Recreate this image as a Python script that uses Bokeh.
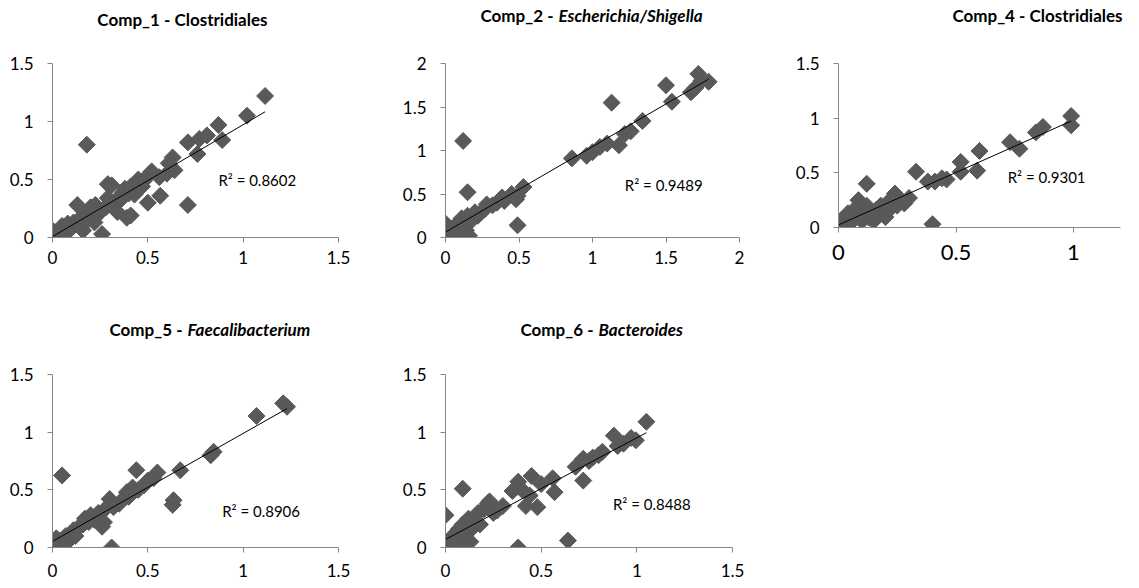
import numpy as np
from bokeh.plotting import figure
from bokeh.models import Range1d, FixedTicker, Label
from bokeh.layouts import row, column
from bokeh.embed import file_html
from bokeh.resources import INLINE

FONT = "Lato"
MARKER = "#595959"
AXIS = "#868686"

# ---- data ----
c1_x = [0.0, 0.01, 0.0, 0.02, 0.03, 0.04, 0.05, 0.06, 0.07, 0.08, 0.1, 0.11, 0.12, 0.13, 0.14, 0.15, 0.16, 0.16, 0.18, 0.18, 0.2, 0.21, 0.22, 0.225, 0.24, 0.25, 0.26, 0.27, 0.28, 0.29, 0.29, 0.31, 0.32, 0.33, 0.34, 0.35, 0.36, 0.37, 0.38, 0.39, 0.4, 0.41, 0.41, 0.43, 0.44, 0.45, 0.46, 0.47, 0.48, 0.5, 0.51, 0.52, 0.56, 0.565, 0.6, 0.61, 0.63, 0.64, 0.71, 0.71, 0.76, 0.77, 0.81, 0.87, 0.89, 1.02, 1.115]
c1_y = [0.0, 0.02, 0.06, 0.0, 0.05, 0.02, 0.1, 0.06, 0.04, 0.12, 0.08, 0.13, 0.12, 0.28, 0.12, 0.09, 0.19, 0.06, 0.8, 0.15, 0.26, 0.18, 0.13, 0.28, 0.2, 0.22, 0.03, 0.25, 0.26, 0.34, 0.46, 0.45, 0.3, 0.3, 0.22, 0.35, 0.33, 0.39, 0.42, 0.17, 0.38, 0.19, 0.44, 0.37, 0.41, 0.5, 0.45, 0.44, 0.49, 0.3, 0.55, 0.57, 0.52, 0.36, 0.55, 0.64, 0.69, 0.58, 0.28, 0.82, 0.72, 0.85, 0.88, 0.97, 0.84, 1.05, 1.22]

c2_x = [0.0, 0.0, 0.0, 0.02, 0.03, 0.04, 0.05, 0.06, 0.07, 0.08, 0.09, 0.1, 0.11, 0.12, 0.13, 0.14, 0.15, 0.15, 0.16, 0.18, 0.2, 0.22, 0.25, 0.27, 0.28, 0.32, 0.35, 0.385, 0.4, 0.45, 0.48, 0.49, 0.49, 0.53, 0.86, 0.96, 1.0, 1.05, 1.1, 1.13, 1.18, 1.22, 1.26, 1.34, 1.5, 1.54, 1.67, 1.7, 1.72, 1.74, 1.79]
c2_y = [0.0, 0.06, 0.16, 0.03, 0.0, 0.1, 0.02, 0.04, 0.14, 0.08, 0.05, 0.18, 0.22, 1.11, 0.12, 0.08, 0.52, 0.25, 0.02, 0.2, 0.29, 0.25, 0.3, 0.33, 0.38, 0.37, 0.4, 0.46, 0.42, 0.5, 0.44, 0.14, 0.48, 0.58, 0.91, 0.94, 0.98, 1.04, 1.08, 1.55, 1.06, 1.19, 1.22, 1.34, 1.75, 1.56, 1.67, 1.72, 1.88, 1.8, 1.79]

c4_x = [0.0, 0.0, 0.01, 0.02, 0.03, 0.04, 0.05, 0.06, 0.07, 0.085, 0.09, 0.1, 0.1, 0.12, 0.12, 0.13, 0.14, 0.15, 0.16, 0.17, 0.18, 0.2, 0.21, 0.22, 0.24, 0.25, 0.26, 0.28, 0.3, 0.33, 0.38, 0.4, 0.41, 0.44, 0.46, 0.52, 0.52, 0.59, 0.6, 0.73, 0.77, 0.84, 0.87, 0.99, 0.99]
c4_y = [0.0, 0.02, 0.05, 0.08, 0.03, 0.13, 0.1, 0.06, 0.17, 0.25, 0.09, 0.15, 0.06, 0.4, 0.2, 0.09, 0.12, 0.06, 0.16, 0.12, 0.2, 0.095, 0.23, 0.17, 0.31, 0.2, 0.26, 0.22, 0.27, 0.51, 0.42, 0.03, 0.42, 0.45, 0.44, 0.6, 0.51, 0.52, 0.7, 0.78, 0.72, 0.87, 0.92, 1.02, 0.935]

c5_x = [0.0, 0.0, 0.01, 0.02, 0.03, 0.04, 0.05, 0.06, 0.07, 0.08, 0.1, 0.11, 0.12, 0.14, 0.16, 0.17, 0.19, 0.2, 0.22, 0.24, 0.26, 0.27, 0.28, 0.3, 0.31, 0.32, 0.35, 0.37, 0.39, 0.4, 0.42, 0.44, 0.45, 0.48, 0.5, 0.53, 0.55, 0.63, 0.635, 0.67, 0.83, 0.845, 1.07, 1.21, 1.23]
c5_y = [0.0, 0.05, 0.02, 0.08, 0.04, 0.06, 0.625, 0.08, 0.1, 0.05, 0.12, 0.15, 0.1, 0.18, 0.2, 0.25, 0.22, 0.28, 0.24, 0.3, 0.18, 0.22, 0.34, 0.42, 0.0, 0.35, 0.38, 0.42, 0.48, 0.44, 0.52, 0.67, 0.5, 0.54, 0.58, 0.6, 0.65, 0.37, 0.41, 0.67, 0.8, 0.83, 1.14, 1.25, 1.22]

c6_x = [0.0, 0.0, 0.0, 0.02, 0.03, 0.03, 0.05, 0.06, 0.06, 0.07, 0.08, 0.09, 0.09, 0.1, 0.1, 0.12, 0.13, 0.13, 0.15, 0.17, 0.18, 0.2, 0.22, 0.23, 0.25, 0.27, 0.3, 0.35, 0.37, 0.38, 0.38, 0.4, 0.42, 0.44, 0.45, 0.48, 0.5, 0.56, 0.57, 0.64, 0.68, 0.72, 0.72, 0.75, 0.77, 0.8, 0.82, 0.88, 0.9, 0.93, 0.97, 0.995, 1.05]
c6_y = [0.0, 0.04, 0.28, 0.02, 0.08, 0.0, 0.12, 0.05, 0.0, 0.16, 0.1, 0.2, 0.51, 0.06, 0.02, 0.25, 0.15, 0.05, 0.22, 0.3, 0.2, 0.33, 0.38, 0.4, 0.3, 0.32, 0.36, 0.49, 0.52, 0.57, 0.0, 0.5, 0.36, 0.45, 0.62, 0.35, 0.55, 0.6, 0.48, 0.06, 0.7, 0.77, 0.58, 0.75, 0.78, 0.8, 0.83, 0.97, 0.88, 0.9, 0.95, 0.93, 1.09]

r2_texts = ["R² = 0.8602", "R² = 0.9489", "R² = 0.9301", "R² = 0.8906", "R² = 0.8488"]

ticks_15 = [0, 0.5, 1, 1.5]
labels_15 = ["0", "0.5", "1", "1.5"]
ticks_2 = [0, 0.5, 1, 1.5, 2]
labels_2 = ["0", "0.5", "1", "1.5", "2"]
ticks_1 = [0, 0.5, 1]
labels_1 = ["0", "0.5", "1"]


def style_axis(ax, ticks, labels, size, bounds, standoff):
    ax.ticker = FixedTicker(ticks=ticks)
    ax.major_label_overrides = {float(t): l for t, l in zip(ticks, labels)}
    ax.bounds = bounds
    ax.axis_line_color = AXIS
    ax.major_tick_line_color = AXIS
    ax.major_tick_out = 5
    ax.major_tick_in = 0
    ax.minor_tick_line_color = None
    ax.major_label_text_font = FONT
    ax.major_label_text_font_size = size
    ax.major_label_text_color = "#000000"
    ax.major_label_standoff = standoff


def make(xs, ys, xr, yr, xt, xl, yt, yl, fw, fh, extra_top, extra_right,
         bl, br, bb, r2, r2pos, title_parts, xsize="17px", xstand=4):
    ppx = fw / (xr[1] - xr[0])
    ppy = fh / (yr[1] - yr[0])
    p = figure(frame_width=fw + extra_right, frame_height=fh + extra_top,
               x_range=Range1d(xr[0], xr[1] + extra_right / ppx),
               y_range=Range1d(yr[0], yr[1] + extra_top / ppy),
               min_border_left=bl, min_border_right=br,
               min_border_top=0, min_border_bottom=bb,
               output_backend="svg", toolbar_location=None)
    p.outline_line_color = None
    p.xgrid.visible = False
    p.ygrid.visible = False
    style_axis(p.xaxis[0], xt, xl, xsize, xr, xstand)
    style_axis(p.yaxis[0], yt, yl, "17px", yr, 14)
    p.scatter(xs, ys, marker="square", angle=np.pi / 4, size=12,
              fill_color=MARKER, line_color=MARKER)
    k, b = np.polyfit(xs, ys, 1)
    lx = [min(xs), max(xs)]
    p.line(lx, [k * v + b for v in lx], line_color="black", line_width=1)
    p.add_layout(Label(x=r2pos[0], y=r2pos[1], text=r2, text_font=FONT,
                       text_font_size="15px", text_baseline="middle",
                       text_align="left", text_color="#000000"))
    for (txt, ox, oy, align, style) in title_parts:
        p.add_layout(Label(x=xr[0], y=yr[1], x_offset=ox, y_offset=oy, text=txt,
                           text_font=FONT, text_font_size="17px",
                           text_font_style=style, text_align=align,
                           text_baseline="middle", text_color="#000000"))
    return p


p1 = make(c1_x, c1_y, (0, 1.5), (0, 1.5), ticks_15, labels_15, ticks_15, labels_15,
          286, 174, 63, 0, 52, 59, 53, r2_texts[0], (0.87, 0.5),
          [("Comp_1  - Clostridiales", 132, 44, "center", "bold")], xstand=8)
p2 = make(c2_x, c2_y, (0, 2), (0, 2), ticks_2, labels_2, ticks_2, labels_2,
          294, 174, 63, 0, 48, 50, 53, r2_texts[1], (1.22, 0.6),
          [("Comp_2 -", 108, 48, "right", "bold"),
           ("Escherichia/Shigella", 113, 48, "left", "bold italic")], xstand=8)
p3 = make(c4_x, c4_y, (0, 1.2), (0, 1.5), ticks_1, labels_1, ticks_15, labels_15,
          282, 164, 63, 19, 49, 0, 63, r2_texts[2], (0.72, 0.46),
          [("Comp_4 - Clostridiales", 199, 48, "center", "bold")],
          xsize="22px", xstand=12)
p4 = make(c5_x, c5_y, (0, 1.5), (0, 1.5), ticks_15, labels_15, ticks_15, labels_15,
          286, 173, 84, 0, 52, 59, 40, r2_texts[3], (0.89, 0.32),
          [("Comp_5 -", 130, 45, "right", "bold"),
           ("Faecalibacterium", 135, 45, "left", "bold italic")], xstand=11)
p5 = make(c6_x, c6_y, (0, 1.5), (0, 1.5), ticks_15, labels_15, ticks_15, labels_15,
          287, 173, 84, 0, 48, 50, 40, r2_texts[4], (0.875, 0.38),
          [("Comp_6 -", 148, 45, "right", "bold"),
           ("Bacteroides", 153, 45, "left", "bold italic")], xstand=11)

layout = column(row(p1, p2, p3), row(p4, p5))
open("out.html", "w").write(file_html(layout, INLINE))
